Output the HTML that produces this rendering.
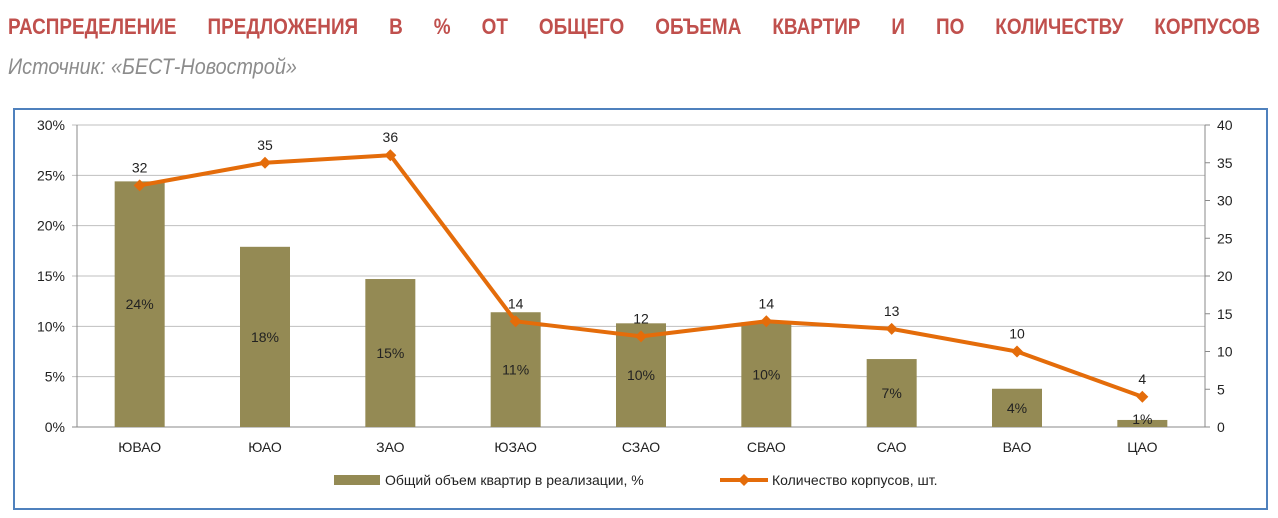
<!DOCTYPE html>
<html><head><meta charset="utf-8"><style>
body{margin:0;width:1278px;height:518px;background:#fff;overflow:hidden;font-family:"Liberation Sans",sans-serif}
#t{position:absolute;left:8px;top:14px;font-size:22px;font-weight:bold;color:#C0504D;width:1252px;text-align:justify;text-align-last:justify;white-space:nowrap;transform:scaleX(0.86);transform-origin:left;width:1456px}
#s{position:absolute;left:8px;top:54px;font-size:22px;font-style:italic;color:#8C8C8C;transform:scaleX(0.9);transform-origin:left}
</style></head><body>
<div id="t">РАСПРЕДЕЛЕНИЕ ПРЕДЛОЖЕНИЯ В % ОТ ОБЩЕГО ОБЪЕМА КВАРТИР И ПО КОЛИЧЕСТВУ КОРПУСОВ</div>
<div id="s">Источник: «БЕСТ-Новострой»</div>
<svg id="c" width="1278" height="518" style="position:absolute;left:0;top:0" font-family="Liberation Sans, sans-serif">
<rect x="14" y="109" width="1253" height="400" fill="none" stroke="#4F81BD" stroke-width="2"/>
</svg>
<script>
const categories=["ЮВАО","ЮАО","ЗАО","ЮЗАО","СЗАО","СВАО","САО","ВАО","ЦАО"];
const shares=[24.4,17.9,14.7,11.4,10.3,10.4,6.75,3.8,0.7];
const buildings=[32,35,36,14,12,14,13,10,4];
const leftTicks=[0,5,10,15,20,25,30];
const rightTicks=[0,5,10,15,20,25,30,35,40];
const svg=document.getElementById('c');const NS='http://www.w3.org/2000/svg';
const X0=77,X1=1205,Y0=427,Y1=125;
const yL=v=>Y0-(v/30)*(Y0-Y1), yR=v=>Y0-(v/40)*(Y0-Y1);
const step=(X1-X0)/categories.length, xC=i=>X0+step*(i+0.5);
function mk(tag,a,txt){const e=document.createElementNS(NS,tag);for(const k in a)e.setAttribute(k,a[k]);if(txt!=null)e.textContent=txt;svg.appendChild(e);return e;}
leftTicks.forEach(v=>{const y=yL(v);
const g=mk('line',{x1:X0-5,x2:X1,y1:y,y2:y,stroke:v?'#BFBFBF':'#888','stroke-width':1});


const t=mk('text',{x:X0-12,y:y+5,'text-anchor':'end','font-size':14,fill:'#222'},v+'%');

});
rightTicks.forEach(v=>{const y=yR(v);
const g=mk('line',{x1:X1,x2:X1+5,y1:y,y2:y,stroke:'#888'});


const t=mk('text',{x:X1+12,y:y+5,'font-size':14,fill:'#222'},v);

});
let a=mk('line',{x1:X0,x2:X0,y1:Y1,y2:Y0,stroke:'#888'});
a=mk('line',{x1:X1,x2:X1,y1:Y1,y2:Y0,stroke:'#888'});
categories.forEach((c,i)=>{const x=xC(i);
const r=mk('rect',{x:x-25,y:yL(shares[i]),width:50,height:Y0-yL(shares[i]),fill:'#948A54'});


const l=mk('text',{x:x,y:Math.min((yL(shares[i])+Y0)/2+5,Y0-3),'text-anchor':'middle','font-size':14,fill:'#222'},Math.round(shares[i])+'%');


const k=mk('text',{x:x,y:452,'text-anchor':'middle','font-size':14,fill:'#222'},c);

});
const p=mk('polyline',{points:buildings.map((v,i)=>xC(i)+','+yR(v)).join(' '),fill:'none',stroke:'#E46C0A','stroke-width':4,'stroke-linejoin':'round'});


buildings.forEach((v,i)=>{const x=xC(i),y=yR(v);
const d=mk('polygon',{points:`${x},${y-6} ${x+6},${y} ${x},${y+6} ${x-6},${y}`,fill:'#E46C0A'});


const t=mk('text',{x:x,y:y-13,'text-anchor':'middle','font-size':14,fill:'#222'},v);

});
let e=mk('rect',{x:334,y:475,width:46,height:10,fill:'#948A54'});
e=mk('text',{x:385,y:485,'font-size':14,fill:'#222'},'Общий объем квартир в реализации, %');
e=mk('line',{x1:720,x2:768,y1:480,y2:480,stroke:'#E46C0A','stroke-width':4});
e=mk('polygon',{points:'744,474 750,480 744,486 738,480',fill:'#E46C0A'});
e=mk('text',{x:772,y:485,'font-size':14,fill:'#222'},'Количество корпусов, шт.');
</script>
</body></html>
